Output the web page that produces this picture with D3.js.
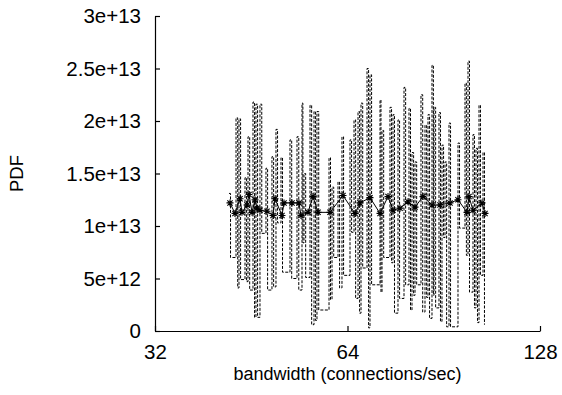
<!DOCTYPE html>
<html>
<head>
<meta charset="utf-8">
<script src="https://cdn.jsdelivr.net/npm/d3@7"></script>
<style>
  body { margin: 0; background: #fff; }
  text { font-family: "Liberation Sans", Arial, sans-serif; }
</style>
</head>
<body>
<div id="chart"></div>
<script>
// pdf histogram (step line): bin start (connections/sec), density
const pdfX = [
  41.77, 42.0, 42.84, 43.1, 43.30, 43.55, 44.25, 44.5, 44.73, 45.0,
  45.54, 45.8, 46.03, 46.3, 46.70, 47.0, 47.72, 48.0, 48.76, 49.05,
  49.47, 49.75, 50.37, 50.65, 52.03, 52.35, 53.36, 53.7, 54.33, 54.5,
  54.72, 55.05, 55.92, 56.25, 56.73, 57.05, 57.34, 57.7, 59.88, 60.2,
  60.53, 60.9, 61.85, 62.2, 62.74, 63.1, 64.58, 64.95, 65.52, 65.9,
  66.47, 66.85, 67.19, 67.6, 68.66, 69.05, 69.40, 69.8, 71.95, 72.2,
  72.47, 72.9, 74.58, 75.0, 75.39, 75.8, 76.76, 77.2, 78.44, 78.9,
  79.86, 80.3, 80.73, 81.2, 81.61, 82.1, 83.39, 83.9, 84.60, 85.1,
  85.52, 86.0, 86.76, 87.2, 87.39, 87.9, 88.97, 89.45, 89.94, 90.45,
  90.92, 91.45, 92.24, 92.75, 95.27, 95.8, 97.71, 98.2, 98.77, 99.3,
  100.56, 101.1, 101.65, 102.2, 102.76, 103.3, 104.25, 104.8
];
const pdfY = [
  13.1, 7.0, 20.3, 4.1, 20.2, 4.9, 14.6, 4.7, 18.5, 3.9,
  21.8, 1.3, 21.6, 1.3, 21.6, 9.3, 15.5, 3.9, 16.6, 4.2,
  19.2, 10.3, 16.5, 5.6, 18.2, 5.0, 18.5, 3.9, 21.7, 8.4,
  15.0, 5.1, 21.5, 0.6, 20.9, 1.0, 20.9, 2.0, 16.5, 3.0,
  13.7, 7.0, 14.2, 4.1, 18.5, 5.3, 18.2, 9.4, 20.1, 3.1,
  20.9, 1.7, 21.7, 6.0, 25.0, 0.3, 24.4, 4.4, 22.0, 3.7,
  19.1, 7.0, 21.3, 6.5, 20.6, 1.7, 20.1, 3.1, 23.2, 4.4,
  21.2, 2.0, 17.0, 3.4, 16.1, 4.4, 22.5, 1.8, 19.6, 3.2,
  20.6, 1.2, 25.3, 3.4, 21.3, 2.2, 20.8, 0.9, 17.7, 8.9,
  16.1, 0.4, 19.8, 0.4, 17.9, 9.8, 23.6, 7.2, 25.7, 3.7,
  18.7, 2.2, 17.4, 0.8, 21.5, 5.3, 17.0, 0.6
].map(v => v * 1e12);

// smoothed estimate (line + star points)
const fitX = [
  41.92, 42.68, 43.46, 43.77, 44.57, 44.89, 45.38, 45.87, 46.20, 46.70,
  47.89, 48.94, 49.30, 50.55, 50.92, 52.41, 53.74, 54.13, 55.51, 56.52,
  57.55, 60.09, 62.97, 65.75, 66.95, 69.40, 71.95, 74.05, 75.39, 77.32,
  79.57, 81.61, 83.99, 86.76, 89.30, 92.57, 95.27, 98.41, 99.12, 100.56,
  103.87, 105.00
];
const fitY = [
  12.2, 11.2, 12.6, 11.3, 12.0, 13.0, 11.3, 12.5, 11.7, 11.5,
  11.4, 11.0, 12.6, 11.0, 12.2, 12.2, 12.2, 11.0, 11.3, 12.8,
  11.3, 11.3, 12.9, 11.2, 12.2, 12.7, 11.2, 12.8, 11.5, 11.7,
  12.3, 11.8, 12.8, 12.0, 12.0, 12.2, 12.5, 11.3, 12.8, 11.5,
  12.2, 11.2
].map(v => v * 1e12);

const xTicks = [32, 64, 128];
const yTicks = [0, 5e12, 1e13, 1.5e13, 2e13, 2.5e13, 3e13];
const yTickLabels = ['0', '5e+12', '1e+13', '1.5e+13', '2e+13', '2.5e+13', '3e+13'];

const [W, H] = [562, 395];
const m = { left: 155, right: 22, top: 16, bottom: 64 };

const svg = d3.select('#chart').append('svg')
  .attr('width', W).attr('height', H);

const x = d3.scaleLog().base(2).domain([32, 128]).range([m.left, W - m.right]);
const y = d3.scaleLinear().domain([0, 3e13]).range([H - m.bottom, m.top]);

// pdf steps
const step = d3.line()
  .x((d, i) => x(pdfX[i]))
  .y((d, i) => y(pdfY[i]))
  .curve(d3.curveStepAfter);
svg.append('path')
  .attr('d', step(pdfY))
  .attr('fill', 'none')
  .attr('stroke', '#000')
  .attr('stroke-width', 1)
  .attr('stroke-dasharray', '3,1.5');

// fitted line
const line = d3.line()
  .x((d, i) => x(fitX[i]))
  .y((d, i) => y(fitY[i]));
svg.append('path')
  .attr('d', line(fitY))
  .attr('fill', 'none')
  .attr('stroke', '#000')
  .attr('stroke-width', 1);

const r = 3.5;
const star = `M${-r},0H${r}M0,${-r}V${r}M${-r * 0.75},${-r * 0.75}L${r * 0.75},${r * 0.75}M${-r * 0.75},${r * 0.75}L${r * 0.75},${-r * 0.75}`;
svg.append('g').selectAll('path')
  .data(fitY).join('path')
  .attr('transform', (d, i) => `translate(${x(fitX[i])},${y(d)})`)
  .attr('d', star)
  .attr('stroke', '#000')
  .attr('stroke-width', 1.1)
  .attr('fill', 'none');

// axes
const xAxis = d3.axisBottom(x)
  .tickValues(xTicks).tickFormat(d3.format('d'))
  .tickSizeInner(-5).tickSizeOuter(0).tickPadding(13);
const gx = svg.append('g')
  .attr('transform', `translate(0,${H - m.bottom})`)
  .call(xAxis);

const yAxis = d3.axisLeft(y)
  .tickValues(yTicks).tickFormat((d, i) => yTickLabels[i])
  .tickSizeInner(-5).tickSizeOuter(0).tickPadding(14);
const gy = svg.append('g')
  .attr('transform', `translate(${m.left},0)`)
  .call(yAxis);

[gx, gy].forEach(g => {
  g.selectAll('path, line').attr('stroke', '#000').attr('stroke-width', 1.2);
  g.selectAll('text').attr('font-size', 20.5).attr('fill', '#000')
    .style('font-family', '"Liberation Sans", Arial, sans-serif');
});

// axis titles
svg.append('text')
  .attr('x', (m.left + W - m.right) / 2).attr('y', 380)
  .attr('text-anchor', 'middle').attr('font-size', 18)
  .text('bandwidth (connections/sec)');

svg.append('text')
  .attr('transform', `translate(23,${(m.top + H - m.bottom) / 2}) rotate(-90)`)
  .attr('text-anchor', 'middle').attr('font-size', 18.5)
  .text('PDF');
</script>
</body>
</html>
